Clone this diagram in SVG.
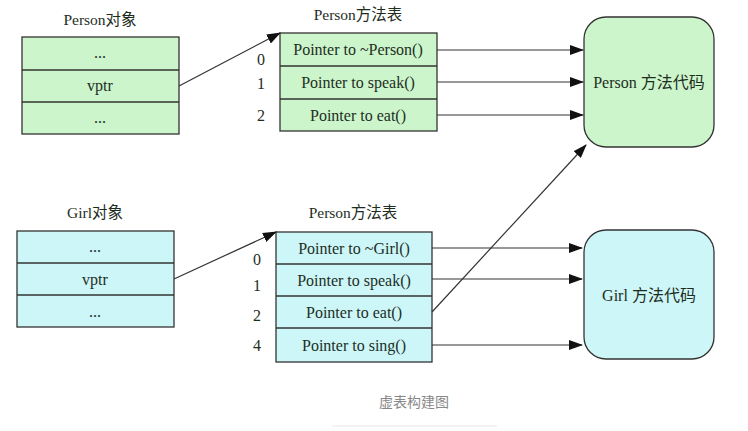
<svg xmlns="http://www.w3.org/2000/svg" width="748" height="431" viewBox="0 0 748 431">
<style>
.g{fill:#ccf5cc;stroke:#333;stroke-width:1.3}
.c{fill:#ccf6f8;stroke:#333;stroke-width:1.3}
.ln{stroke:#333;stroke-width:1.3;fill:none}
.t{font-family:"Liberation Serif","Noto Sans CJK SC",serif;font-size:16px;fill:#1e2e1e;text-anchor:middle}
.h{font-size:15.5px}
.cap{font-family:"Noto Sans CJK SC","Liberation Sans",sans-serif;font-size:14px;fill:#888;text-anchor:middle}
.e{stroke:#333;stroke-width:1.2;fill:none;marker-end:url(#ah)}
</style>
<defs>
<marker id="ah" markerWidth="14" markerHeight="10" refX="13" refY="5" orient="auto" markerUnits="userSpaceOnUse">
<path d="M0,0 L14,5 L0,10 z" fill="#111"/>
</marker>
</defs>
<rect width="748" height="431" fill="#fff"/>

<g id="person-object">
<text class="t h" x="100" y="25">Person对象</text>
<rect class="g" x="22" y="37" width="157" height="97"/>
<line class="ln" x1="22" y1="70" x2="179" y2="70"/>
<line class="ln" x1="22" y1="102" x2="179" y2="102"/>
<text class="t" x="100" y="58">...</text>
<text class="t" x="100" y="91">vptr</text>
<text class="t" x="100" y="123">...</text>
</g>

<g id="person-vtable">
<text class="t h" x="358" y="20">Person方法表</text>
<rect class="g" x="280" y="33" width="157" height="98"/>
<line class="ln" x1="280" y1="66" x2="437" y2="66"/>
<line class="ln" x1="280" y1="99" x2="437" y2="99"/>
<text class="t" x="358" y="55">Pointer to ~Person()</text>
<text class="t" x="358" y="88">Pointer to speak()</text>
<text class="t" x="358" y="121">Pointer to eat()</text>
<text class="t" x="261" y="65">0</text>
<text class="t" x="261" y="89">1</text>
<text class="t" x="261" y="121">2</text>
</g>

<g id="person-code">
<rect class="g" x="584" y="17" width="130" height="130" rx="22" ry="22"/>
<text class="t" x="649" y="88">Person 方法代码</text>
</g>

<g id="girl-object">
<text class="t h" x="95" y="218">Girl对象</text>
<rect class="c" x="17" y="231" width="157" height="96"/>
<line class="ln" x1="17" y1="263" x2="174" y2="263"/>
<line class="ln" x1="17" y1="295" x2="174" y2="295"/>
<text class="t" x="95" y="252">...</text>
<text class="t" x="95" y="285">vptr</text>
<text class="t" x="95" y="317">...</text>
</g>

<g id="girl-vtable">
<text class="t h" x="353" y="218">Person方法表</text>
<rect class="c" x="276" y="232" width="156" height="130"/>
<line class="ln" x1="276" y1="264" x2="432" y2="264"/>
<line class="ln" x1="276" y1="296" x2="432" y2="296"/>
<line class="ln" x1="276" y1="328" x2="432" y2="328"/>
<text class="t" x="354" y="254">Pointer to ~Girl()</text>
<text class="t" x="354" y="286">Pointer to speak()</text>
<text class="t" x="354" y="318">Pointer to eat()</text>
<text class="t" x="354" y="351">Pointer to sing()</text>
<text class="t" x="257" y="265">0</text>
<text class="t" x="257" y="291">1</text>
<text class="t" x="257" y="321">2</text>
<text class="t" x="257" y="351">4</text>
</g>

<g id="girl-code">
<rect class="c" x="584" y="230" width="130" height="129" rx="22" ry="22"/>
<text class="t" x="649" y="301">Girl 方法代码</text>
</g>

<g id="connectors">
<line class="e" x1="179" y1="86" x2="280" y2="33"/>
<line class="e" x1="437" y1="50" x2="583" y2="50"/>
<line class="e" x1="437" y1="82" x2="583" y2="82"/>
<line class="e" x1="437" y1="115" x2="583" y2="115"/>
<line class="e" x1="174" y1="279" x2="276" y2="232"/>
<line class="e" x1="432" y1="248" x2="582" y2="248"/>
<line class="e" x1="432" y1="279" x2="582" y2="279"/>
<line class="e" x1="432" y1="345" x2="582" y2="345"/>
<line class="e" x1="432" y1="312" x2="586" y2="145"/>
</g>

<g id="caption">
<text class="cap" x="414" y="407">虚表构建图</text>
<line x1="332" y1="426" x2="497" y2="426" stroke="#e6e6e6" stroke-width="1"/>
</g>
</svg>
